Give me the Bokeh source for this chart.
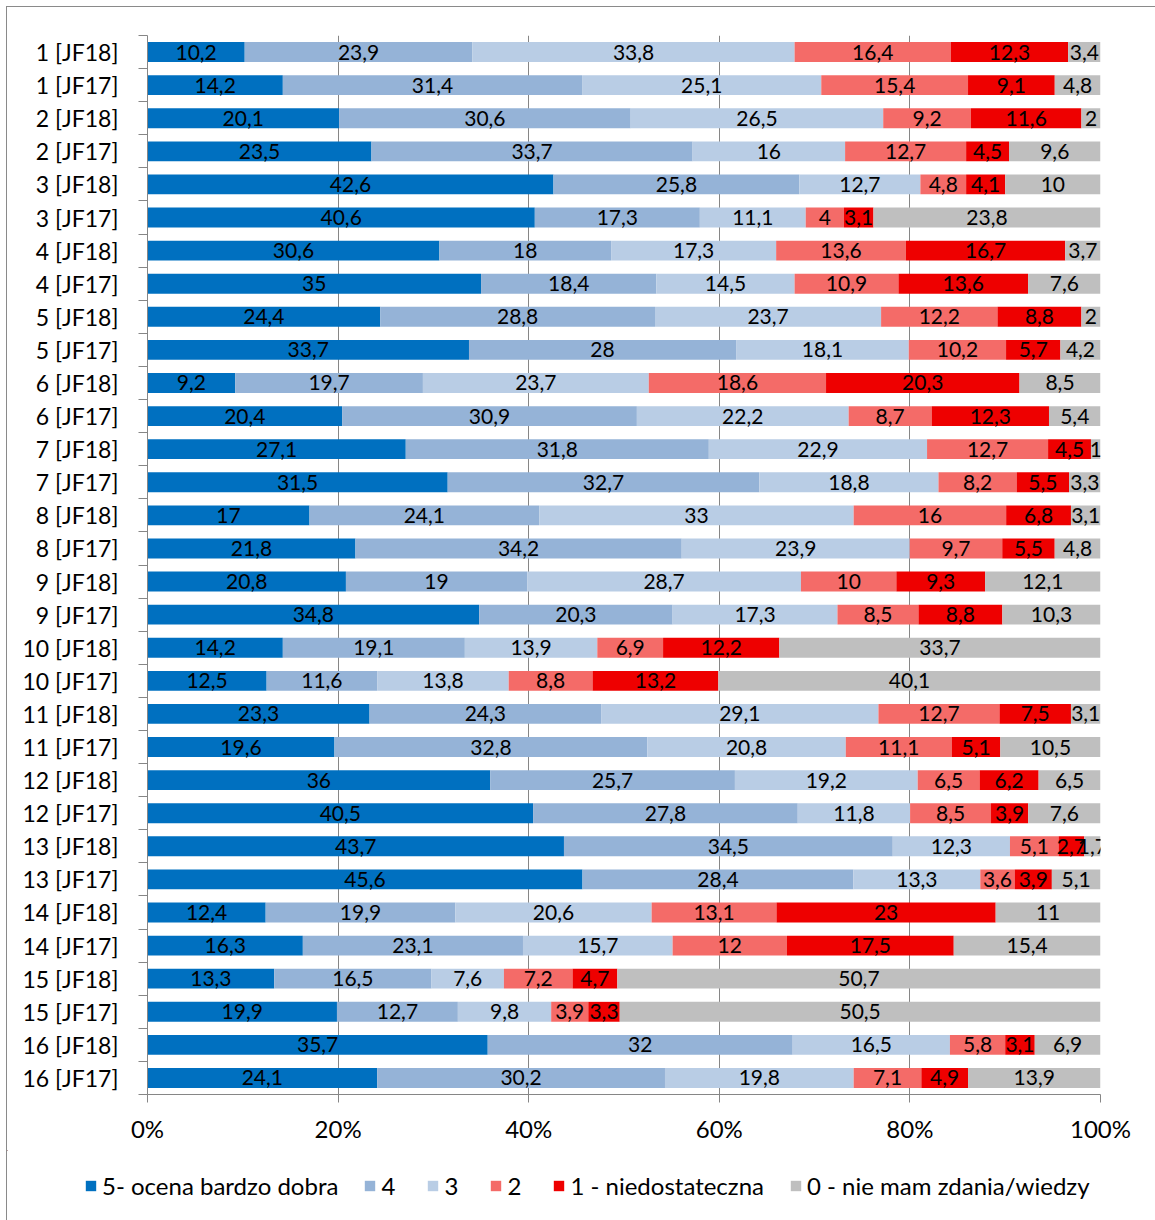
import numpy as np
from bokeh.plotting import figure
from bokeh.layouts import column
from bokeh.models import ColumnDataSource, FixedTicker, Legend, LegendItem, PrintfTickFormatter
from bokeh.embed import file_html
from bokeh.resources import INLINE
from bokeh.core.properties import value

categories = ["1 [JF18]", "1 [JF17]", "2 [JF18]", "2 [JF17]", "3 [JF18]", "3 [JF17]",
              "4 [JF18]", "4 [JF17]", "5 [JF18]", "5 [JF17]", "6 [JF18]", "6 [JF17]",
              "7 [JF18]", "7 [JF17]", "8 [JF18]", "8 [JF17]", "9 [JF18]", "9 [JF17]",
              "10 [JF18]", "10 [JF17]", "11 [JF18]", "11 [JF17]", "12 [JF18]", "12 [JF17]",
              "13 [JF18]", "13 [JF17]", "14 [JF18]", "14 [JF17]", "15 [JF18]", "15 [JF17]",
              "16 [JF18]", "16 [JF17]"]

s5 = [10.2, 14.2, 20.1, 23.5, 42.6, 40.6, 30.6, 35, 24.4, 33.7, 9.2, 20.4, 27.1, 31.5, 17, 21.8,
      20.8, 34.8, 14.2, 12.5, 23.3, 19.6, 36, 40.5, 43.7, 45.6, 12.4, 16.3, 13.3, 19.9, 35.7, 24.1]
s4 = [23.9, 31.4, 30.6, 33.7, 25.8, 17.3, 18, 18.4, 28.8, 28, 19.7, 30.9, 31.8, 32.7, 24.1, 34.2,
      19, 20.3, 19.1, 11.6, 24.3, 32.8, 25.7, 27.8, 34.5, 28.4, 19.9, 23.1, 16.5, 12.7, 32, 30.2]
s3 = [33.8, 25.1, 26.5, 16, 12.7, 11.1, 17.3, 14.5, 23.7, 18.1, 23.7, 22.2, 22.9, 18.8, 33, 23.9,
      28.7, 17.3, 13.9, 13.8, 29.1, 20.8, 19.2, 11.8, 12.3, 13.3, 20.6, 15.7, 7.6, 9.8, 16.5, 19.8]
s2 = [16.4, 15.4, 9.2, 12.7, 4.8, 4, 13.6, 10.9, 12.2, 10.2, 18.6, 8.7, 12.7, 8.2, 16, 9.7,
      10, 8.5, 6.9, 8.8, 12.7, 11.1, 6.5, 8.5, 5.1, 3.6, 13.1, 12, 7.2, 3.9, 5.8, 7.1]
s1 = [12.3, 9.1, 11.6, 4.5, 4.1, 3.1, 16.7, 13.6, 8.8, 5.7, 20.3, 12.3, 4.5, 5.5, 6.8, 5.5,
      9.3, 8.8, 12.2, 13.2, 7.5, 5.1, 6.2, 3.9, 2.7, 3.9, 23, 17.5, 4.7, 3.3, 3.1, 4.9]
s0 = [3.4, 4.8, 2, 9.6, 10, 23.8, 3.7, 7.6, 2, 4.2, 8.5, 5.4, 1, 3.3, 3.1, 4.8,
      12.1, 10.3, 33.7, 40.1, 3.1, 10.5, 6.5, 7.6, 1.7, 5.1, 11, 15.4, 50.7, 50.5, 6.9, 13.9]

series_names = ["5- ocena bardzo dobra", "4", "3", "2", "1 - niedostateczna", "0 - nie mam zdania/wiedzy"]
x_ticks = [0, 20, 40, 60, 80, 100]

colors = ["#0070C0", "#95B3D7", "#B9CDE5", "#F46B68", "#EE0000", "#BFBFBF"]
FONT = "Lato"
FS_AX = "23px"
FS_LEG = "24px"
FS_LAB = "21px"

n = len(categories)
ypos = np.array([n - i - 0.5 for i in range(n)])
data = np.array([s5, s4, s3, s2, s1, s0], dtype=float)
pct = data / data.sum(axis=0) * 100.0
cum = np.cumsum(pct, axis=0)
left = np.vstack([np.zeros(n), cum[:-1]])
right = cum

W = 1148
p = figure(width=W, height=1143, x_range=(0, 100), y_range=(0, n),
           output_backend="svg", toolbar_location=None,
           min_border_left=140, min_border_right=55, min_border_top=28, min_border_bottom=56)
p.outline_line_color = None

sources = []
for k in range(6):
    src = ColumnDataSource(dict(y=ypos, left=left[k], right=right[k],
                                mid=(left[k] + right[k]) / 2,
                                lab=[f"{v:g}".replace(".", ",") for v in data[k]]))
    sources.append(src)
    p.hbar(y="y", left="left", right="right", height=0.6, source=src,
           fill_color=colors[k], line_color=None)
    p.text(x="mid", y="y", text="lab", source=src, text_align="center", text_baseline="middle",
           text_font=value(FONT), text_font_size=FS_LAB, text_color="black")

# axes
p.xaxis.ticker = FixedTicker(ticks=x_ticks)
p.xaxis.formatter = PrintfTickFormatter(format="%d%%")
p.xaxis.axis_line_color = "#868686"
p.xaxis.major_tick_line_color = "#868686"
p.xaxis.major_tick_out = 8
p.xaxis.major_tick_in = 0
p.xaxis.minor_tick_line_color = None
p.xaxis.major_label_text_font = FONT
p.xaxis.major_label_text_font_size = "24px"
p.xaxis.major_label_text_color = "black"
p.xaxis.major_label_standoff = 11

p.yaxis.ticker = FixedTicker(ticks=list(ypos), minor_ticks=list(range(n + 1)))
p.yaxis.major_label_overrides = {float(y): c for y, c in zip(ypos, categories)}
p.yaxis.axis_line_color = "#868686"
p.yaxis.major_tick_line_color = None
p.yaxis.major_tick_out = 0
p.yaxis.major_tick_in = 0
p.yaxis.minor_tick_line_color = "#868686"
p.yaxis.minor_tick_out = 9
p.yaxis.minor_tick_in = 0
p.yaxis.major_label_text_font = FONT
p.yaxis.major_label_text_font_size = FS_AX
p.yaxis.major_label_text_color = "black"
p.yaxis.major_label_standoff = 20

p.xgrid.grid_line_color = "#868686"
p.xgrid.ticker = FixedTicker(ticks=x_ticks)
p.ygrid.grid_line_color = None

# legend strip (separate figure under the chart); its bars lie far outside its visible range
lg = figure(width=W, height=70, x_range=(5000, 5001), y_range=(-5000, -4999),
            output_backend="svg", toolbar_location=None,
            x_axis_location=None, y_axis_location=None,
            min_border_left=0, min_border_right=0, min_border_top=0, min_border_bottom=0)
lg.outline_line_color = None
lg.xgrid.grid_line_color = None
lg.ygrid.grid_line_color = None
lg.background_fill_color = "white"
lg.border_fill_color = "white"

legend_x = -63
if "frame_align" in lg.properties():
    lg.frame_align = False
    p.frame_align = False
    legend_x = 77

items = []
for k in range(6):
    r = lg.hbar(y="y", left="left", right="right", height=0.6, source=sources[k],
                fill_color=colors[k], line_color=None)
    items.append(LegendItem(label=series_names[k], renderers=[r]))
legend = Legend(items=items, orientation="horizontal", location=(legend_x, 20),
                label_text_font=FONT, label_text_font_size=FS_LEG, label_text_color="black",
                glyph_width=13, glyph_height=13, label_standoff=5, spacing=25, padding=4, margin=0,
                border_line_color=None, background_fill_alpha=0)
lg.add_layout(legend, "center")

layout = column(p, lg, spacing=0)
layout.styles = {"position": "relative", "left": "6px", "top": "6px",
                 "border-left": "1px solid #8a8a8a", "border-top": "1px solid #8a8a8a"}

open("out.html", "w").write(file_html(layout, INLINE))
